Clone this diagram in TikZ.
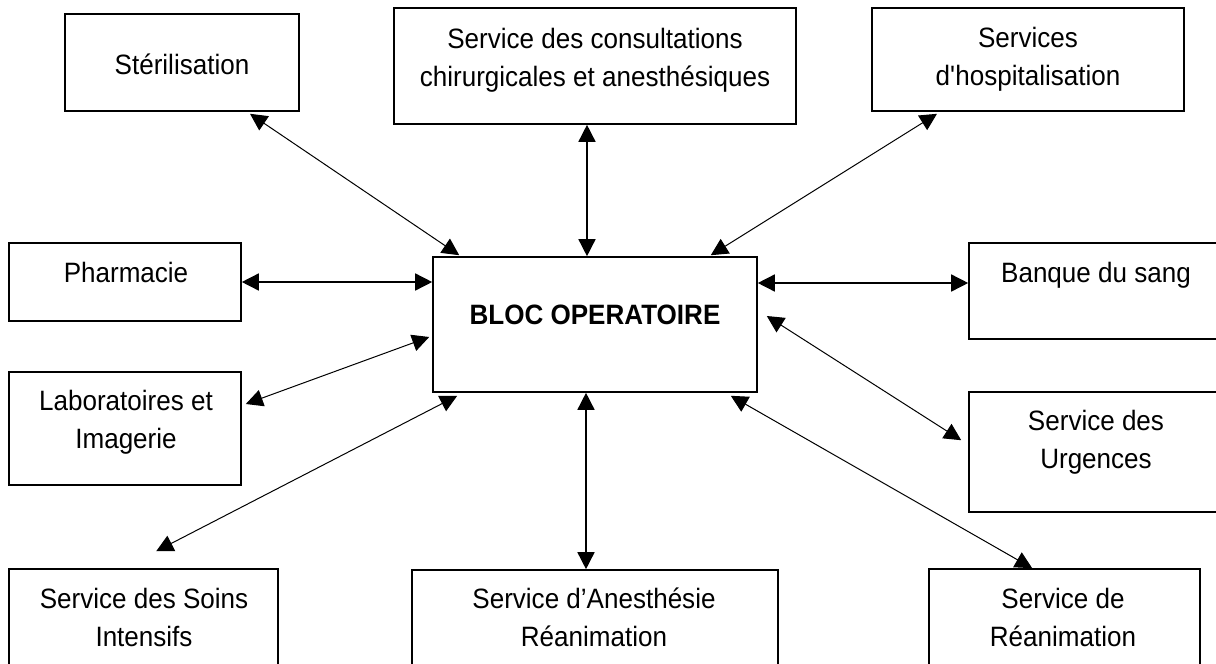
\documentclass[tikz,border=0pt]{standalone}
\usepackage{fontspec}
\setmainfont{Liberation Sans}[FakeStretch=0.93]
\usetikzlibrary{arrows.meta,calc}
\newcommand\txtl[1]{\begin{tabular}[t]{@{}c@{}}#1\end{tabular}}
\begin{document}
\begin{tikzpicture}[x=1pt,y=-1pt,
  box/.style={draw,line width=1.6pt,inner sep=0pt,rectangle},
  lbl/.style={anchor=base,inner sep=0pt,font=\fontsize{28}{38}\selectfont},
  link/.style={line width=1pt,{Triangle[length=17pt,width=17pt]}-{Triangle[length=17pt,width=17pt]}},
  slink/.style={link,line width=1.5pt}]
\useasboundingbox (0,0) rectangle (1216,664);
\fill[white] (0,0) rectangle (1216,664);
\clip (0,0) rectangle (1216,664);
% boxes
\node[box,minimum width=234pt,minimum height=97pt]  (ster)   at (182,62.5) {};
\node[box,minimum width=402pt,minimum height=116pt] (cons)   at (595,66) {};
\node[box,minimum width=312pt,minimum height=103pt] (hosp)   at (1028,59.5) {};
\node[box,minimum width=232pt,minimum height=78pt]  (pharm)  at (125,282) {};
\node[box,minimum width=324pt,minimum height=135pt] (bloc)   at (595,324.5) {};
\node[box,minimum width=253pt,minimum height=96pt]  (banque) at (1095.5,291) {};
\node[box,minimum width=232pt,minimum height=113pt] (labs)   at (125,428.5) {};
\node[box,minimum width=253pt,minimum height=120pt] (urg)    at (1095.5,452) {};
\node[box,minimum width=269pt,minimum height=131pt] (soins)  at (143.5,634.5) {};
\node[box,minimum width=366pt,minimum height=130pt] (anes)   at (595,635) {};
\node[box,minimum width=271pt,minimum height=131pt] (rea)    at (1064.5,634.5) {};
% texts
\node[lbl] (ster-t)   at (182,74)   {Stérilisation};
\node[lbl] (cons-t)   at (595,48)   {\txtl{Service des consultations\\chirurgicales et anesthésiques}};
\node[lbl] (hosp-t)   at (1028,47)  {\txtl{Services\\d\textquotesingle hospitalisation}};
\node[lbl] (pharm-t)  at (126,282)  {Pharmacie};
\node[lbl,font=\fontsize{28}{38}\selectfont\bfseries] (bloc-t) at (595,324) {BLOC OPERATOIRE};
\node[lbl] (banque-t) at (1096,282) {Banque du sang};
\node[lbl] (labs-t)   at (126,410)  {\txtl{Laboratoires et\\Imagerie}};
\node[lbl] (urg-t)    at (1096,430) {\txtl{Service des\\Urgences}};
\node[lbl] (soins-t)  at (144,608)  {\txtl{Service des Soins\\Intensifs}};
\node[lbl] (anes-t)   at (594,608)  {\txtl{Service d’Anesthésie\\Réanimation}};
\node[lbl] (rea-t)    at (1063,608) {\txtl{Service de\\Réanimation}};
% connectors
\coordinate (bq) at ($(banque.west)+(0,-8)$);
\draw[link]  ($(ster.south)+(68,2)$) -- ($(bloc.north west)+(27,-1)$);
\draw[slink] ($(cons.south)+(-8,0)$) -- ($(bloc.north)+(-8,0)$);
\draw[link]  ($(hosp.south)+(-91,2)$) -- ($(bloc.north east)+(-47,-1)$);
\draw[slink] (pharm.east) -- (pharm.east -| bloc.west);
\draw[slink] (bloc.east |- bq) -- (bq);
\draw[link]  ($(labs.east)+(4,-24.5)$) -- ($(bloc.west)+(-3,12.5)$);
\draw[link]  ($(bloc.east)+(9,-8.5)$) -- ($(urg.north west)+(-7,49)$);
\draw[link]  ($(bloc.south west)+(25,3)$) -- ($(soins.north west)+(148,-17)$);
\draw[slink] ($(bloc.south)+(-9,0)$) -- ($(anes.north)+(-9,0)$);
\draw[link]  ($(bloc.south east)+(-27,3)$) -- ($(rea.north west)+(104,0)$);
\end{tikzpicture}
\end{document}
